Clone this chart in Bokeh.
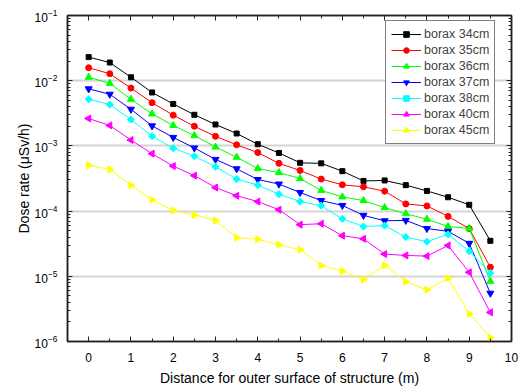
import math
from bokeh.plotting import figure
from bokeh.models import FixedTicker, LinearAxis, LogAxis, Range1d, CustomJSTickFormatter
from bokeh.embed import file_html
from bokeh.resources import INLINE

distance = [0, 0.5, 1, 1.5, 2, 2.5, 3, 3.5, 4, 4.5, 5, 5.5, 6, 6.5, 7, 7.5, 8, 8.5, 9, 9.5]

borax_34 = [2.3e-2, 1.9e-2, 1.13e-2, 6.6e-3, 4.4e-3, 3.0e-3, 2.13e-3, 1.55e-3, 1.06e-3, 7.8e-4,
            5.5e-4, 5.4e-4, 4.1e-4, 2.9e-4, 2.95e-4, 2.5e-4, 2.04e-4, 1.63e-4, 1.25e-4, 3.5e-5]
borax_35 = [1.58e-2, 1.28e-2, 7.7e-3, 4.6e-3, 2.96e-3, 2.0e-3, 1.4e-3, 1.04e-3, 7.9e-4, 5.4e-4,
            4.2e-4, 3.1e-4, 2.53e-4, 2.36e-4, 2.02e-4, 1.29e-4, 1.2e-4, 8.3e-5, 5.4e-5, 1.38e-5]
borax_36 = [1.13e-2, 9.1e-3, 5.2e-3, 3.1e-3, 2.06e-3, 1.44e-3, 9.6e-4, 6.7e-4, 4.5e-4, 3.9e-4,
            3.16e-4, 2.08e-4, 1.65e-4, 1.45e-4, 1.13e-4, 9.1e-5, 7.5e-5, 5.8e-5, 5.4e-5, 8.4e-6]
borax_37 = [7.5e-3, 6.2e-3, 3.65e-3, 2.03e-3, 1.35e-3, 9.3e-4, 6.2e-4, 4.45e-4, 3.05e-4, 2.6e-4,
            1.93e-4, 1.45e-4, 1.22e-4, 8.6e-5, 7.1e-5, 7.2e-5, 5.4e-5, 4.9e-5, 3.2e-5, 5.5e-6]
borax_38 = [5.2e-3, 4.3e-3, 2.54e-3, 1.41e-3, 9.2e-4, 6.95e-4, 4.8e-4, 3.1e-4, 2.5e-4, 1.82e-4,
            1.4e-4, 1.21e-4, 7.6e-5, 5.8e-5, 6.0e-5, 4.0e-5, 3.4e-5, 4.4e-5, 2.43e-5, 1.12e-5]
borax_40 = [2.63e-3, 2.06e-3, 1.23e-3, 7.6e-4, 4.9e-4, 3.5e-4, 2.3e-4, 1.72e-4, 1.4e-4, 1.05e-4,
            6.2e-5, 6.4e-5, 4.2e-5, 3.76e-5, 2.19e-5, 2.09e-5, 2.04e-5, 2.97e-5, 1.15e-5, 2.8e-6]
borax_45 = [5.06e-4, 4.35e-4, 2.5e-4, 1.49e-4, 1.02e-4, 8.7e-5, 7.2e-5, 3.9e-5, 3.7e-5, 3.04e-5,
            2.57e-5, 1.47e-5, 1.2e-5, 8.9e-6, 1.47e-5, 8.3e-6, 6.2e-6, 9.4e-6, 2.66e-6, 1.15e-6]

series_names = ["borax 34cm", "borax 35cm", "borax 36cm", "borax 37cm", "borax 38cm", "borax 40cm", "borax 45cm"]
series_values = [borax_34, borax_35, borax_36, borax_37, borax_38, borax_40, borax_45]
colors = ["#000000", "#FF0000", "#00FF00", "#0000FF", "#00FFFF", "#FF00FF", "#FFFF00"]
markers = ["square", "circle", "triangle", "inverted_triangle", "square", "triangle", "triangle"]
angles = [0, 0, 0, 0, math.pi / 4, math.pi / 2, -math.pi / 2]
sizes = [5, 6, 7, 7, 5, 7, 7]

x_major = list(range(0, 11))
x_minor = [i + 0.5 for i in range(-1, 10)]
y_major = [10.0 ** e for e in range(-6, 0)]
y_minor = [m * 10.0 ** e for e in range(-6, -1) for m in range(2, 10)]
y_grid = [1e-5, 1e-4, 1e-3, 1e-2]

FONT = "Liberation Sans"
AX = "#222222"

p = figure(width=518, height=391, y_axis_type="log",
           x_range=Range1d(-0.5, 10), y_range=Range1d(1e-6, 1e-1),
           output_backend="svg", toolbar_location=None,
           min_border_left=67, min_border_right=7, min_border_top=15, min_border_bottom=50)

p.outline_line_color = AX
p.outline_line_width = 1.5
p.xgrid.visible = False
p.ygrid.ticker = FixedTicker(ticks=y_grid)
p.ygrid.grid_line_color = "#d4d4d4"
p.ygrid.grid_line_width = 2

def style_axis(ax, show_labels=True):
    ax.axis_line_color = AX
    ax.axis_line_width = 1.5
    ax.major_tick_line_color = AX
    ax.minor_tick_line_color = AX
    ax.major_tick_in = 5
    ax.major_tick_out = 0
    ax.minor_tick_in = 3
    ax.minor_tick_out = 0
    ax.major_label_text_font = FONT
    ax.major_label_text_font_size = "12px"
    ax.major_label_text_color = "#000000"
    ax.axis_label_text_font = FONT
    ax.axis_label_text_font_size = "14px"
    ax.axis_label_text_font_style = "normal"
    ax.axis_label_text_color = "#000000"
    if not show_labels:
        ax.formatter = CustomJSTickFormatter(code="return ''")

xb = p.xaxis[0]
xb.ticker = FixedTicker(ticks=x_major, minor_ticks=x_minor)
style_axis(xb)
xb.major_label_standoff = 11
xb.axis_label = "Distance for outer surface of structure (m)"
xb.axis_label_standoff = 5

yl = p.yaxis[0]
yl.ticker = FixedTicker(ticks=y_major, minor_ticks=y_minor)
style_axis(yl)
yl.major_label_standoff = 10
yl.axis_label = "Dose rate (\u03bcSv/h)"
yl.axis_label_standoff = 0

xt = LinearAxis(ticker=FixedTicker(ticks=x_major, minor_ticks=x_minor))
style_axis(xt, show_labels=False)
p.add_layout(xt, "above")
yr = LogAxis(ticker=FixedTicker(ticks=y_major, minor_ticks=y_minor))
style_axis(yr, show_labels=False)
p.add_layout(yr, "right")

for name, vals, c, m, a, s in zip(series_names, series_values, colors, markers, angles, sizes):
    p.line(distance, vals, line_color=c, line_width=1, legend_label=name)
    p.scatter(distance, vals, marker=m, size=s, angle=a, fill_color=c, line_color=c, legend_label=name)

lg = p.legend[0]
lg.margin = 0
lg.padding = 5
lg.spacing = 0
lg.label_height = 16
lg.glyph_height = 14
lg.glyph_width = 30
lg.label_standoff = 3
lg.label_text_font = FONT
lg.label_text_font_size = "12.5px"
lg.border_line_color = "#000000"
lg.border_line_width = 1
lg.background_fill_color = "#ffffff"
lg.background_fill_alpha = 1
lg.location = (444 - 14 - 112, 326 - 7 - 122)

open("out.html", "w").write(file_html(p, INLINE))
